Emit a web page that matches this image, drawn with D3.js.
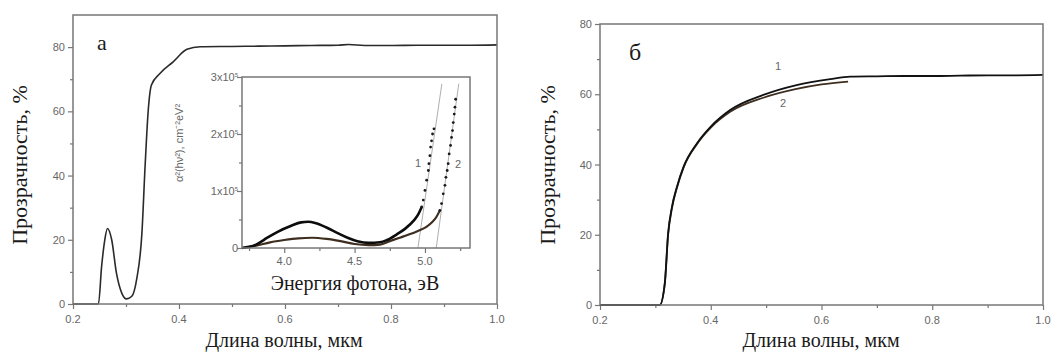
<!DOCTYPE html>
<html lang="ru">
<head>
    <meta charset="UTF-8">
    <title>Прозрачность</title>
    <style>
        body {
            margin: 0;
            padding: 0;
            overflow: hidden;
            background: #fff;
        }

        .frame {
            fill: none;
            stroke: #777;
            stroke-width: 1.5px;
        }

        .tick line {
            stroke: #777;
            stroke-width: 1.2px;
        }

        .ticklabel {
            font-family: "Liberation Sans", Arial, sans-serif;
            font-size: 11px;
            fill: #666;
        }

        .title {
            font-family: "Liberation Serif", "Times New Roman", serif;
            fill: #1a1a1a;
        }
    </style>
</head>
<body>
    <script src="https://d3js.org/d3.v7.min.js"></script>
    <script>
        // панель а: длина волны (мкм), прозрачность (%)
        const waveA = [0.20, 0.248, 0.254, 0.260, 0.265, 0.273, 0.282, 0.292, 0.301, 0.311, 0.320, 0.330, 0.336,
            0.342, 0.348, 0.364, 0.389, 0.415, 0.44, 0.50, 0.55, 0.60, 0.65, 0.70, 0.72, 0.75, 0.80, 0.85, 0.90, 0.95, 1.0];
        const transA = [0, 0, 11.7, 20, 23.5, 20, 9.6, 3.4, 1.6, 2.4, 7.6, 22, 42.8,
            60.4, 68.2, 71.8, 75.4, 79.3, 80.1, 80.2, 80.3, 80.4, 80.5, 80.6, 80.8, 80.5, 80.5, 80.6, 80.6, 80.6, 80.7];

        // вставка: энергия фотона (эВ), α² (x10^5)
        const energy1 = [3.70, 3.75, 3.80, 3.88, 3.95, 4.05, 4.12, 4.17, 4.22, 4.30, 4.38, 4.45, 4.52, 4.60, 4.68,
            4.73, 4.80, 4.86, 4.92, 4.95, 4.977];
        const alpha1 = [0, 0.02, 0.06, 0.18, 0.28, 0.39, 0.45, 0.46, 0.44, 0.36, 0.26, 0.18, 0.12, 0.09, 0.10,
            0.14, 0.24, 0.34, 0.48, 0.58, 0.72];
        const energy1Dots = [4.977, 4.988, 5.0, 5.012, 5.024, 5.028, 5.035, 5.04, 5.047, 5.054, 5.064];
        const alpha1Dots = [0.72, 0.84, 1.01, 1.19, 1.36, 1.48, 1.62, 1.77, 1.88, 2.0, 2.09];

        const energy2 = [3.70, 3.80, 3.90, 4.00, 4.10, 4.20, 4.30, 4.40, 4.50, 4.60, 4.68, 4.75, 4.82, 4.89, 4.95,
            5.01, 5.05, 5.08, 5.106];
        const alpha2 = [0, 0.04, 0.10, 0.14, 0.17, 0.18, 0.16, 0.12, 0.07, 0.05, 0.06, 0.12, 0.18, 0.24, 0.30,
            0.37, 0.45, 0.54, 0.66];
        const energy2Dots = [5.106, 5.118, 5.13, 5.142, 5.149, 5.158, 5.165, 5.172, 5.182, 5.189, 5.196, 5.201,
            5.208, 5.213, 5.218];
        const alpha2Dots = [0.66, 0.78, 0.95, 1.10, 1.24, 1.36, 1.48, 1.65, 1.80, 1.94, 2.06, 2.20, 2.35, 2.47, 2.61];

        // касательные (экстраполяция ширины запрещённой зоны)
        const tangent1 = [[4.95, 0], [5.12, 2.88]];
        const tangent2 = [[5.08, 0], [5.24, 2.88]];

        // панель б: два образца
        const waveB1 = [0.20, 0.308, 0.317, 0.323, 0.330, 0.339, 0.351, 0.375, 0.40, 0.435, 0.495, 0.555, 0.616,
            0.652, 0.70, 0.75, 0.80, 0.85, 0.90, 0.95, 1.0];
        const transB1 = [0, 0, 6.2, 20.4, 28, 33.7, 39.4, 46, 50.8, 55.5, 59.8, 62.6, 64.3,
            65, 65.1, 65.2, 65.2, 65.3, 65.4, 65.4, 65.5];
        const waveB2 = [0.20, 0.308, 0.317, 0.323, 0.330, 0.339, 0.351, 0.375, 0.40, 0.435, 0.495, 0.555, 0.60, 0.648];
        const transB2 = [0, 0, 6.0, 20.0, 27.6, 33.4, 39.2, 45.8, 50.5, 55.0, 59.0, 61.5, 62.8, 63.6];

        const yTicks = [0, 20, 40, 60, 80];
        const xTicks = [0.2, 0.4, 0.6, 0.8, 1.0];
        const insetXTicks = [4.0, 4.5, 5.0];
        const insetYTicks = [0, 1, 2, 3];

        const width = 1056;
        const height = 354;

        const svg = d3.select("body").append("svg")
            .attr("width", width)
            .attr("height", height);

        const xA = d3.scaleLinear().domain([0.2, 1.0]).range([73, 497]);
        const yA = d3.scaleLinear().domain([0, 90]).range([304, 15]);
        const xI = d3.scaleLinear().domain([3.7, 5.32]).range([242, 470]);
        const yI = d3.scaleLinear().domain([0, 3]).range([248, 77]);
        const xB = d3.scaleLinear().domain([0.2, 1.0]).range([600, 1043]);
        const yB = d3.scaleLinear().domain([0, 80]).range([305, 24]);

        function zip(xs, ys) {
            return xs.map((x, i) => [x, ys[i]]);
        }

        function frame(x, y) {
            svg.append("rect")
                .attr("class", "frame")
                .attr("x", x.range()[0])
                .attr("y", y.range()[1])
                .attr("width", x.range()[1] - x.range()[0])
                .attr("height", y.range()[0] - y.range()[1]);
        }

        // оси с внешними рисками, основные и промежуточные
        function axes(x, y, xt, yt, xFmt, yFmt, minorX, minorY) {
            const bottom = y.range()[0];
            const left = x.range()[0];

            svg.append("g")
                .attr("transform", `translate(0,${bottom})`)
                .call(d3.axisBottom(x).tickValues(minorX).tickSize(3).tickFormat(""))
                .call(g => g.select(".domain").remove());
            svg.append("g")
                .attr("transform", `translate(0,${bottom})`)
                .call(d3.axisBottom(x).tickValues(xt).tickSize(5).tickFormat(""))
                .call(g => g.select(".domain").remove());
            svg.append("g").selectAll("text")
                .data(xt)
                .join("text")
                .attr("class", "ticklabel")
                .attr("x", d => x(d))
                .attr("y", bottom + 19)
                .attr("text-anchor", "middle")
                .text(xFmt);

            svg.append("g")
                .attr("transform", `translate(${left},0)`)
                .call(d3.axisLeft(y).tickValues(minorY).tickSize(3).tickFormat(""))
                .call(g => g.select(".domain").remove());
            svg.append("g")
                .attr("transform", `translate(${left},0)`)
                .call(d3.axisLeft(y).tickValues(yt).tickSize(5).tickFormat(""))
                .call(g => g.select(".domain").remove());
            return svg.append("g").selectAll("text")
                .data(yt)
                .join("text")
                .attr("class", "ticklabel")
                .attr("x", left - 8)
                .attr("y", d => y(d) + 4)
                .attr("text-anchor", "end")
                .text(yFmt);
        }

        const fmt1 = d => d3.format(".1f")(d);

        // ---------- панель а ----------
        axes(xA, yA, xTicks, yTicks, fmt1, d => d,
            [0.3, 0.5, 0.7, 0.9], [10, 30, 50, 70]);

        svg.append("path")
            .datum(zip(waveA, transA))
            .attr("fill", "none")
            .attr("stroke", "#2a2a2a")
            .attr("stroke-width", 1.6)
            .attr("d", d3.line().x(d => xA(d[0])).y(d => yA(d[1])).curve(d3.curveMonotoneX));

        frame(xA, yA);

        svg.append("text")
            .attr("class", "title")
            .attr("x", 97)
            .attr("y", 50)
            .attr("font-size", 22)
            .text("a");

        // вставка
        svg.append("rect")
            .attr("x", 242).attr("y", 76)
            .attr("width", 228).attr("height", 173)
            .attr("fill", "#fff");

        const insetLabels = axes(xI, yI, insetXTicks, insetYTicks, fmt1, d => d,
            [3.75, 4.25, 4.75, 5.25], [0.5, 1.5, 2.5]);
        insetLabels.attr("font-size", 9.5)
            .attr("x", 238)
            .text(null)
            .each(function(d) {
                const t = d3.select(this);
                if (d === 0) {
                    t.text("0");
                } else {
                    t.append("tspan").text(d + "x10");
                    t.append("tspan").attr("dy", -4).attr("font-size", 6).text("5");
                }
            });
        svg.selectAll(".ticklabel").filter(d => insetXTicks.includes(d))
            .attr("y", yI.range()[0] + 17);

        svg.append("text")
            .attr("class", "ticklabel")
            .attr("transform", "translate(183,143) rotate(-90)")
            .attr("text-anchor", "middle")
            .attr("font-size", 9.5)
            .text("α²(hν²), cm⁻²eV²");

        const insetLine = d3.line().x(d => xI(d[0])).y(d => yI(d[1]));

        [tangent1, tangent2].forEach(t => {
            svg.append("path")
                .datum(t)
                .attr("fill", "none")
                .attr("stroke", "#999")
                .attr("stroke-width", 0.8)
                .attr("d", insetLine);
        });

        svg.append("path")
            .datum(zip(energy2, alpha2))
            .attr("fill", "none")
            .attr("stroke", "#3e2e20")
            .attr("stroke-width", 2.2)
            .attr("d", insetLine.curve(d3.curveMonotoneX));

        svg.append("path")
            .datum(zip(energy1, alpha1))
            .attr("fill", "none")
            .attr("stroke", "#0d0d0d")
            .attr("stroke-width", 2.6)
            .attr("d", insetLine.curve(d3.curveMonotoneX));

        svg.append("g").selectAll("circle")
            .data(zip(energy1Dots, alpha1Dots).concat(zip(energy2Dots, alpha2Dots)))
            .join("circle")
            .attr("cx", d => xI(d[0]))
            .attr("cy", d => yI(d[1]))
            .attr("r", 1.4)
            .attr("fill", "#1a1a1a");

        frame(xI, yI);

        svg.append("text")
            .attr("class", "ticklabel")
            .attr("x", 418).attr("y", 167)
            .attr("text-anchor", "middle")
            .attr("font-size", 12)
            .text("1");
        svg.append("text")
            .attr("class", "ticklabel")
            .attr("x", 458).attr("y", 168)
            .attr("text-anchor", "middle")
            .attr("font-size", 12)
            .text("2");

        svg.append("text")
            .attr("class", "title")
            .attr("x", 355)
            .attr("y", 290)
            .attr("text-anchor", "middle")
            .attr("font-size", 20)
            .text("Энергия фотона, эВ");

        svg.append("text")
            .attr("class", "title")
            .attr("transform", "translate(27,165) rotate(-90)")
            .attr("text-anchor", "middle")
            .attr("font-size", 22)
            .text("Прозрачность, %");

        svg.append("text")
            .attr("class", "title")
            .attr("x", 284)
            .attr("y", 347)
            .attr("text-anchor", "middle")
            .attr("font-size", 20)
            .text("Длина волны, мкм");

        // ---------- панель б ----------
        axes(xB, yB, xTicks, yTicks, fmt1, d => d,
            [0.3, 0.5, 0.7, 0.9], [10, 30, 50, 70]);

        const lineB = d3.line().x(d => xB(d[0])).y(d => yB(d[1])).curve(d3.curveMonotoneX);

        svg.append("path")
            .datum(zip(waveB2, transB2))
            .attr("fill", "none")
            .attr("stroke", "#3e2e20")
            .attr("stroke-width", 1.8)
            .attr("d", lineB);

        svg.append("path")
            .datum(zip(waveB1, transB1))
            .attr("fill", "none")
            .attr("stroke", "#111")
            .attr("stroke-width", 1.8)
            .attr("d", lineB);

        frame(xB, yB);

        svg.append("text")
            .attr("class", "title")
            .attr("x", 635)
            .attr("y", 60)
            .attr("text-anchor", "middle")
            .attr("font-size", 24)
            .text("б");

        svg.append("text")
            .attr("class", "ticklabel")
            .attr("x", 778).attr("y", 70)
            .attr("text-anchor", "middle")
            .attr("font-size", 13)
            .text("1");
        svg.append("text")
            .attr("class", "ticklabel")
            .attr("x", 783).attr("y", 107)
            .attr("text-anchor", "middle")
            .attr("font-size", 13)
            .text("2");

        svg.append("text")
            .attr("class", "title")
            .attr("transform", "translate(555,165) rotate(-90)")
            .attr("text-anchor", "middle")
            .attr("font-size", 22)
            .text("Прозрачность, %");

        svg.append("text")
            .attr("class", "title")
            .attr("x", 821)
            .attr("y", 347)
            .attr("text-anchor", "middle")
            .attr("font-size", 20)
            .text("Длина волны, мкм");
    </script>
</body>
</html>
